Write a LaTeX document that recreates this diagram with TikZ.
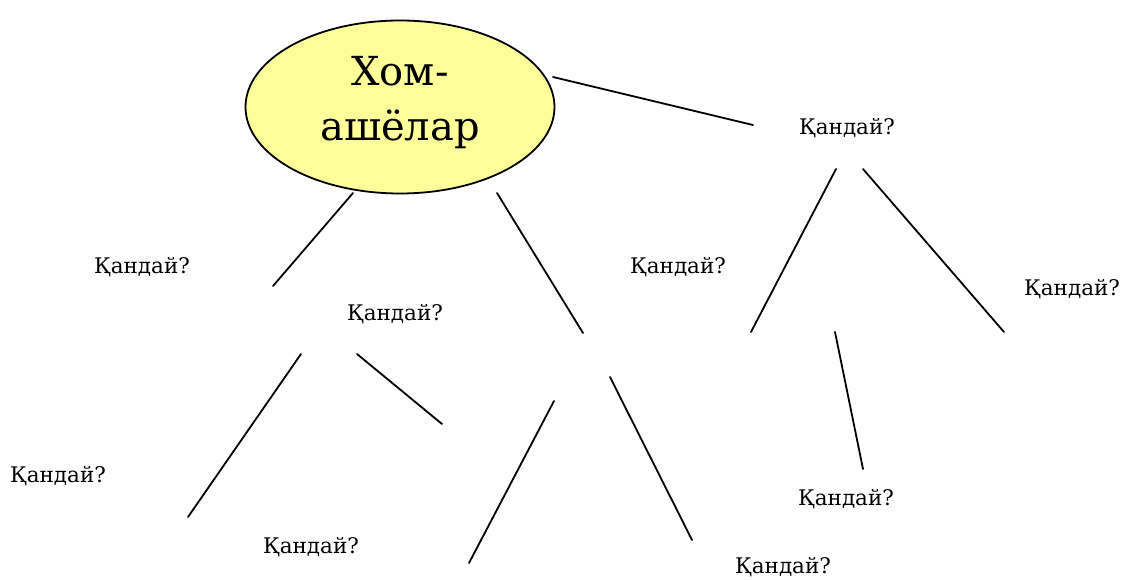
\documentclass[tikz,border=0pt]{standalone}
\usepackage{fontspec}
\setmainfont{DejaVu Serif}
\newfontfamily\labelfont{DejaVu Serif}
\usetikzlibrary{shapes.geometric}
\begin{document}
\begin{tikzpicture}[x=1pt,y=-1pt,
  topic/.style={draw=black,line width=1.8pt,fill=yellowfill,ellipse,
    minimum width=309pt,minimum height=173pt,inner sep=0pt},
  topictext/.style={align=center,inner sep=0pt,font=\labelfont\fontsize{40}{55}\selectfont},
  ask/.style={anchor=base west,inner sep=0pt,font=\labelfont\fontsize{21.5}{30}\selectfont},
  branch/.style={line width=1.8pt,line cap=round}]
\definecolor{yellowfill}{RGB}{255,255,153}
\useasboundingbox (0,0) rectangle (1125,580);

% central topic
\node[topic] (root) at (400,107) {};
\node[topictext] (roottext) at (root.center) [yshift=4pt] {Хом-\\ашёлар};

% question labels
\node[ask] (q1) at (799,135) {Қандай?};
\node[ask] (q2) at (94,273) {Қандай?};
\node[ask] (q3) at (347,320) {Қандай?};
\node[ask] (q4) at (630,273) {Қандай?};
\node[ask] (q5) at (1024,295) {Қандай?};
\node[ask] (q6) at (10,482) {Қандай?};
\node[ask] (q7) at (263,553) {Қандай?};
\node[ask] (q8) at (798,505) {Қандай?};
\node[ask] (q9) at (735,573) {Қандай?};

% branch end points
\coordinate (a1) at (553,77);   \coordinate (a2) at (753,125);
\coordinate (b1) at (353,193);  \coordinate (b2) at (273,286);
\coordinate (c1) at (497,193);  \coordinate (c2) at (583,333);
\coordinate (d1) at (836,169);  \coordinate (d2) at (751,332);
\coordinate (e1) at (863,169);  \coordinate (e2) at (1004,332);
\coordinate (f1) at (835,332);  \coordinate (f2) at (863,469);
\coordinate (g1) at (301,354);  \coordinate (g2) at (188,517);
\coordinate (h1) at (357,354);  \coordinate (h2) at (442,424);
\coordinate (i1) at (554,401);  \coordinate (i2) at (469,563);
\coordinate (j1) at (610,377);  \coordinate (j2) at (692,540);

% branches
\foreach \s in {a,b,c,d,e,f,g,h,i,j}
  \draw[branch] (\s1) -- (\s2);
\end{tikzpicture}
\end{document}
